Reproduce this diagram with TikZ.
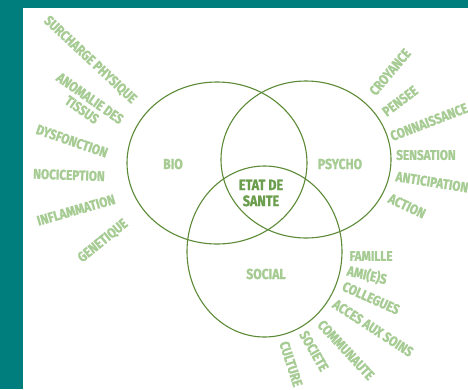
\documentclass[tikz,border=0pt]{standalone}
\usepackage{fontspec}
\setmainfont{Fira Sans}
\newfontfamily\chalk{Fira Sans}[FakeStretch=0.84,FakeBold=1.2]
\definecolor{teal0}{RGB}{0,125,125}
\definecolor{lbl}{RGB}{166,204,148}
\definecolor{ctr}{RGB}{106,158,76}
\definecolor{ring}{RGB}{92,138,54}
\begin{document}
\begin{tikzpicture}[x=1pt,y=-1pt,
  lab/.style={font=\chalk\bfseries\fontsize{14}{14}\selectfont, text=lbl, inner sep=0pt},
  ringlab/.style={font=\chalk\bfseries\fontsize{14.5}{15}\selectfont, text=lbl, inner sep=0pt},
  ctrlab/.style={font=\chalk\bfseries\fontsize{15}{16}\selectfont, text=ctr, inner sep=0pt, align=center},
  ringline/.style={draw=ring, line width=1.1pt}]
\useasboundingbox (0,0) rectangle (468,389);
\clip (0,0) rectangle (468,389);
\fill[white] (0,0) rectangle (468,389);
\fill[teal0] (0,0) rectangle (23,389);
\fill[teal0] (0,0) rectangle (468,8);
% circles
\draw[ringline] (217,163) ellipse [x radius=90, y radius=81];
\draw[ringline] (306,159.5) ellipse [x radius=85, y radius=78.5];
\draw[ringline] (264.5,251.5) ellipse [x radius=77.5, y radius=85.5];
% circle labels
\node[ringlab] (bio) at (173,164) {BIO};
\node[ringlab] (psycho) at (340,164) {PSYCHO};
\node[ringlab] (social) at (266,274) {SOCIAL};
\node[ctrlab] (etat) at (261,193) {ETAT DE\\SANTE};
% bio factors
\node[lab, rotate=-43] (surcharge) at (90,60) {SURCHARGE PHYSIQUE};
\node[lab, rotate=-35, align=center] (anomalie) at (86,104) {ANOMALIE DES\\TISSUS};
\node[lab, rotate=-19] (dysf) at (72,141) {DYSFONCTION};
\node[lab, rotate=-2] (noci) at (69,175) {NOCICEPTION};
\node[lab, rotate=16] (infl) at (76,210) {INFLAMMATION};
\node[lab, rotate=39] (gene) at (103,241) {GENETIQUE};
% psycho factors
\node[lab, rotate=50] (croy) at (390,72) {CROYANCE};
\node[lab, rotate=37] (pensee) at (400,101) {PENSEE};
\node[lab, rotate=21] (conn) at (429,122) {CONNAISSANCE};
\node[lab] (sens) at (426,155) {SENSATION};
\node[lab, rotate=-9] (antic) at (432,182) {ANTICIPATION};
\node[lab, rotate=-25] (action) at (407,206) {ACTION};
% social factors
\node[lab] (famille) at (371,256) {FAMILLE};
\node[lab, rotate=-13] (amis) at (367,275) {AMI(E)S};
\node[lab, rotate=-24] (coll) at (371,298) {COLLEGUES};
\node[lab, rotate=-33] (acces) at (373,328) {ACCES AUX SOINS};
\node[lab, rotate=-47] (comm) at (346,350) {COMMUNAUTE};
\node[lab, rotate=-60] (soc) at (314,351) {SOCIETE};
\node[lab, rotate=-72] (cult) at (291,364) {CULTURE};
\end{tikzpicture}
\end{document}
